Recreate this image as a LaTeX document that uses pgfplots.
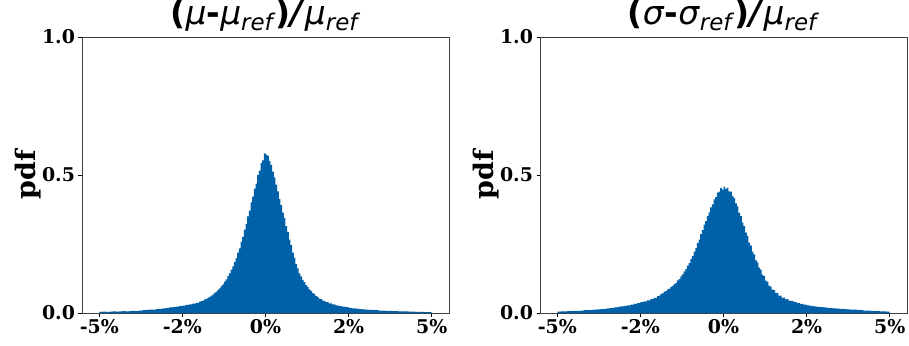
\documentclass[border=0pt]{standalone}
\usepackage{fontspec}
\setmainfont{DejaVu Serif}
\newfontfamily\titlefont{DejaVu Sans}
\usepackage{pgfplots}
\pgfplotsset{compat=1.18}
\usepackage{pgfplotstable}
\definecolor{histblue}{RGB}{0,96,168}

\pgfplotstableread{
x y
-5.0 0.004
-4.9 0.005
-4.8 0.004
-4.7 0.005
-4.6 0.006
-4.5 0.005
-4.4 0.006
-4.3 0.007
-4.2 0.006
-4.1 0.007
-4.0 0.008
-3.9 0.008
-3.8 0.009
-3.7 0.010
-3.6 0.011
-3.5 0.012
-3.4 0.012
-3.3 0.014
-3.2 0.015
-3.1 0.017
-3.0 0.018
-2.9 0.020
-2.8 0.021
-2.7 0.023
-2.6 0.025
-2.5 0.027
-2.4 0.029
-2.3 0.031
-2.2 0.034
-2.1 0.037
-2.00 0.041
-1.95 0.043
-1.90 0.045
-1.85 0.049
-1.80 0.051
-1.75 0.055
-1.70 0.058
-1.65 0.063
-1.60 0.067
-1.55 0.073
-1.50 0.077
-1.45 0.084
-1.40 0.089
-1.35 0.097
-1.30 0.104
-1.25 0.114
-1.20 0.122
-1.15 0.134
-1.10 0.144
-1.05 0.157
-1.00 0.169
-0.95 0.185
-0.90 0.199
-0.85 0.219
-0.80 0.234
-0.75 0.258
-0.70 0.276
-0.65 0.302
-0.60 0.322
-0.55 0.350
-0.50 0.371
-0.45 0.401
-0.40 0.422
-0.35 0.451
-0.30 0.469
-0.25 0.500
-0.20 0.516
-0.15 0.543
-0.10 0.553
-0.05 0.578
0.00 0.574
0.05 0.570
0.10 0.551
0.15 0.537
0.20 0.512
0.25 0.491
0.30 0.465
0.35 0.441
0.40 0.413
0.45 0.391
0.50 0.364
0.55 0.344
0.60 0.315
0.65 0.294
0.70 0.266
0.75 0.246
0.80 0.219
0.85 0.200
0.90 0.177
0.95 0.162
1.00 0.144
1.05 0.133
1.10 0.120
1.15 0.112
1.20 0.101
1.25 0.095
1.30 0.086
1.35 0.080
1.40 0.072
1.45 0.068
1.50 0.061
1.55 0.058
1.60 0.052
1.65 0.050
1.70 0.045
1.75 0.044
1.80 0.039
1.85 0.039
1.90 0.035
1.95 0.035
2.0 0.031
2.1 0.028
2.2 0.025
2.3 0.023
2.4 0.021
2.5 0.019
2.6 0.017
2.7 0.016
2.8 0.014
2.9 0.013
3.0 0.012
3.1 0.011
3.2 0.011
3.3 0.010
3.4 0.009
3.5 0.009
3.6 0.008
3.7 0.008
3.8 0.007
3.9 0.007
4.0 0.006
4.1 0.006
4.2 0.006
4.3 0.005
4.4 0.005
4.5 0.004
4.6 0.004
4.7 0.004
4.8 0.003
4.9 0.003
5.0 0.003
}\mudata

\pgfplotstableread{
x y
-5.0 0.005
-4.9 0.006
-4.8 0.006
-4.7 0.007
-4.6 0.007
-4.5 0.008
-4.4 0.008
-4.3 0.009
-4.2 0.010
-4.1 0.010
-4.0 0.011
-3.9 0.012
-3.8 0.013
-3.7 0.014
-3.6 0.015
-3.5 0.017
-3.4 0.018
-3.3 0.020
-3.2 0.022
-3.1 0.024
-3.0 0.026
-2.9 0.028
-2.8 0.030
-2.7 0.033
-2.6 0.036
-2.5 0.039
-2.4 0.042
-2.3 0.046
-2.2 0.050
-2.1 0.055
-2.00 0.061
-1.95 0.063
-1.90 0.069
-1.85 0.071
-1.80 0.077
-1.75 0.079
-1.70 0.086
-1.65 0.088
-1.60 0.095
-1.55 0.098
-1.50 0.105
-1.45 0.109
-1.40 0.118
-1.35 0.123
-1.30 0.133
-1.25 0.140
-1.20 0.151
-1.15 0.159
-1.10 0.172
-1.05 0.181
-1.00 0.195
-0.95 0.206
-0.90 0.222
-0.85 0.235
-0.80 0.253
-0.75 0.266
-0.70 0.286
-0.65 0.300
-0.60 0.320
-0.55 0.333
-0.50 0.352
-0.45 0.365
-0.40 0.383
-0.35 0.394
-0.30 0.412
-0.25 0.420
-0.20 0.436
-0.15 0.440
-0.10 0.452
-0.05 0.447
0.00 0.458
0.05 0.450
0.10 0.454
0.15 0.441
0.20 0.440
0.25 0.424
0.30 0.417
0.35 0.397
0.40 0.386
0.45 0.363
0.50 0.351
0.55 0.327
0.60 0.315
0.65 0.291
0.70 0.279
0.75 0.255
0.80 0.244
0.85 0.222
0.90 0.212
0.95 0.191
1.00 0.183
1.05 0.164
1.10 0.157
1.15 0.139
1.20 0.134
1.25 0.117
1.30 0.114
1.35 0.099
1.40 0.096
1.45 0.085
1.50 0.083
1.55 0.073
1.60 0.072
1.65 0.063
1.70 0.063
1.75 0.055
1.80 0.056
1.85 0.049
1.90 0.050
1.95 0.045
2.0 0.044
2.1 0.040
2.2 0.036
2.3 0.033
2.4 0.030
2.5 0.028
2.6 0.026
2.7 0.024
2.8 0.022
2.9 0.021
3.0 0.020
3.1 0.019
3.2 0.018
3.3 0.017
3.4 0.016
3.5 0.015
3.6 0.014
3.7 0.013
3.8 0.012
3.9 0.012
4.0 0.011
4.1 0.010
4.2 0.009
4.3 0.009
4.4 0.008
4.5 0.007
4.6 0.007
4.7 0.006
4.8 0.006
4.9 0.005
5.0 0.005
}\sigdata

\newcommand{\sub}[1]{\raisebox{-0.2em}{\fontsize{23}{23}\selectfont\textit{#1}}}

\pgfplotsset{
  histax/.style={
    scale only axis,
    width=367bp, height=276bp,
    xmin=-5.52, xmax=5.52,
    ymin=0, ymax=1,
    xtick={-5,-2.5,0,2.5,5},
    xticklabels={-5\%,-2\%,0\%,2\%,5\%},
    ytick={0,0.5,1},
    yticklabels={0.0,0.5,1.0},
    xtick pos=bottom, ytick pos=left,
    tick align=outside,
    major tick length=3.5bp,
    tick style={black, line width=0.8bp},
    axis line style={black!75, line width=0.8bp},
    ticklabel style={font=\bfseries\fontsize{19}{19}\selectfont},
    xticklabel style={yshift=1bp},
    yticklabel style={xshift=0bp},
    ylabel={pdf},
    ylabel style={at={(axis description cs:-0.147,0.5)}, anchor=center,
      font=\bfseries\fontsize{27}{27}\selectfont},
    title style={at={(axis description cs:0.5,1)}, anchor=base, yshift=7bp,
      font=\titlefont\fontsize{33}{33}\selectfont},
    axis on top,
    clip=true,
  }
}

\begin{document}
\begin{tikzpicture}
\useasboundingbox (-82bp,-33bp) rectangle (827bp,313bp);
\begin{axis}[histax, at={(0bp,0bp)}, anchor=south west,
  title={\textbf{(}\textit{μ}\textbf{-}\textit{μ}\sub{ref}\textbf{)}\textbf{\textit{/}}\textit{μ}\sub{ref}}]
\addplot[const plot, fill=histblue, draw=none] table[x=x,y=y] {\mudata} \closedcycle;
\end{axis}
\begin{axis}[histax, at={(458bp,0bp)}, anchor=south west,
  title={\textbf{(}\textit{σ}\textbf{-}\textit{σ}\sub{ref}\textbf{)}\textbf{\textit{/}}\textit{μ}\sub{ref}}]
\addplot[const plot, fill=histblue, draw=none] table[x=x,y=y] {\sigdata} \closedcycle;
\end{axis}
\end{tikzpicture}
\end{document}
